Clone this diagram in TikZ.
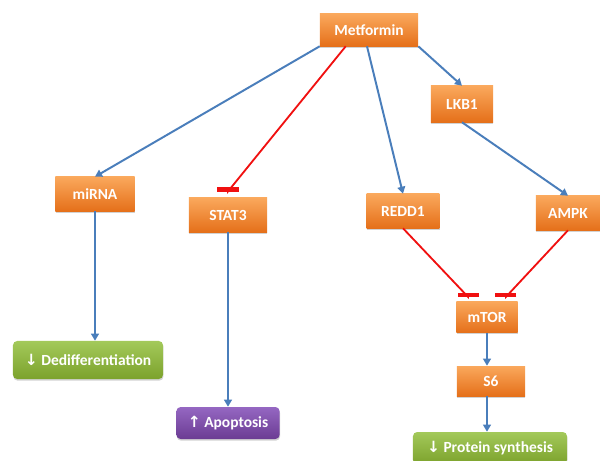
\documentclass[tikz,border=0pt]{standalone}
\usepackage{fontspec}
\setmainfont{Carlito}
\newfontfamily\arrowfont{DejaVu Sans}
\usepackage{tikz}
\usetikzlibrary{arrows.meta,positioning,shadows}
\definecolor{orangetop}{HTML}{FAA85C}
\definecolor{orangebot}{HTML}{E5701A}
\definecolor{greentop}{HTML}{A3C95A}
\definecolor{greenbot}{HTML}{7CA22C}
\definecolor{purpletop}{HTML}{9567C2}
\definecolor{purplebot}{HTML}{6B3C93}
\definecolor{actblue}{HTML}{4A7EBB}
\definecolor{inhred}{HTML}{F01010}

\tikzset{
  genebox/.style={rectangle,top color=orangetop,bottom color=orangebot,draw=none,
    minimum height=0.85cm,text=white,font=\fontsize{11}{13}\selectfont\bfseries,
    drop shadow={shadow xshift=0.3pt,shadow yshift=-1.2pt,fill=black!35}},
  greenbox/.style={genebox,top color=greentop,bottom color=greenbot,rounded corners=3pt},
  purplebox/.style={genebox,top color=purpletop,bottom color=purplebot,rounded corners=3pt},
  act/.style={draw=actblue,line width=1.4pt,-{Triangle[length=5pt,width=5.5pt]}},
  inh/.style={draw=inhred,line width=1.3pt,-{Bar[width=15pt,line width=3pt]}}
}
\newcommand{\dn}{{\arrowfont\bfseries ↓}}
\newcommand{\up}{{\arrowfont\bfseries ↑}}

\begin{document}
\begin{tikzpicture}[x=0.025cm,y=-0.025cm]
  \useasboundingbox (0,0) rectangle (600,461);
  % top level
  \node[genebox,minimum width=2.45cm,minimum height=0.8cm] (met) at (369,30) {Metformin};
  \node[genebox,minimum width=1.55cm,minimum height=0.9cm] (lkb) at (462,104) {LKB1};
  % middle level
  \node[genebox,minimum width=1.98cm] (mir) at (95,194) {miRNA};
  \node[genebox,minimum width=1.95cm] (stat) at (228,215) {STAT3};
  \node[genebox,minimum width=1.82cm] (redd) at (403,211) {REDD1};
  \node[genebox,minimum width=1.6cm] (ampk) at (568,213) {AMPK};
  \node[genebox,minimum width=1.53cm,minimum height=0.78cm] (mtor) at (487,317) {mTOR};
  \node[genebox,minimum width=1.7cm,minimum height=0.75cm] (s6) at (491,381) {S6};
  % outcomes
  \node[greenbox,minimum width=3.75cm,minimum height=0.95cm] (dedif) at (88,360) {\dn\ Dedifferentiation};
  \node[purplebox,minimum width=2.58cm,minimum height=0.8cm] (apop) at (228,423) {\up\ Apoptosis};
  \node[greenbox,minimum width=3.85cm,minimum height=0.8cm] (prot) at (490,448) {\dn\ Protein synthesis};

  % connectors
  \draw[act] (met.south west) -- (mir.north);
  \draw[inh] (met.215) -- ([yshift=4.5pt]stat.north) -- ([yshift=4.4pt]stat.north);
  \draw[act] (met.263) -- (redd.north);
  \draw[act] (met.south east) -- (lkb.north);
  \draw[act] (lkb.south) -- (ampk.north);
  \draw[inh] (redd.south) -- ([yshift=3pt]mtor.140) -- ([yshift=2.9pt]mtor.140);
  \draw[inh] (ampk.south) -- ([yshift=3pt]mtor.40) -- ([yshift=2.9pt]mtor.40);
  \draw[act] (mir.south) -- (dedif.north -| mir.south);
  \draw[act] (stat.south) -- (apop.north);
  \draw[act] (mtor.south) -- (s6.north -| mtor.south);
  \draw[act] (s6.south -| mtor.south) -- (prot.north -| mtor.south);
\end{tikzpicture}
\end{document}
